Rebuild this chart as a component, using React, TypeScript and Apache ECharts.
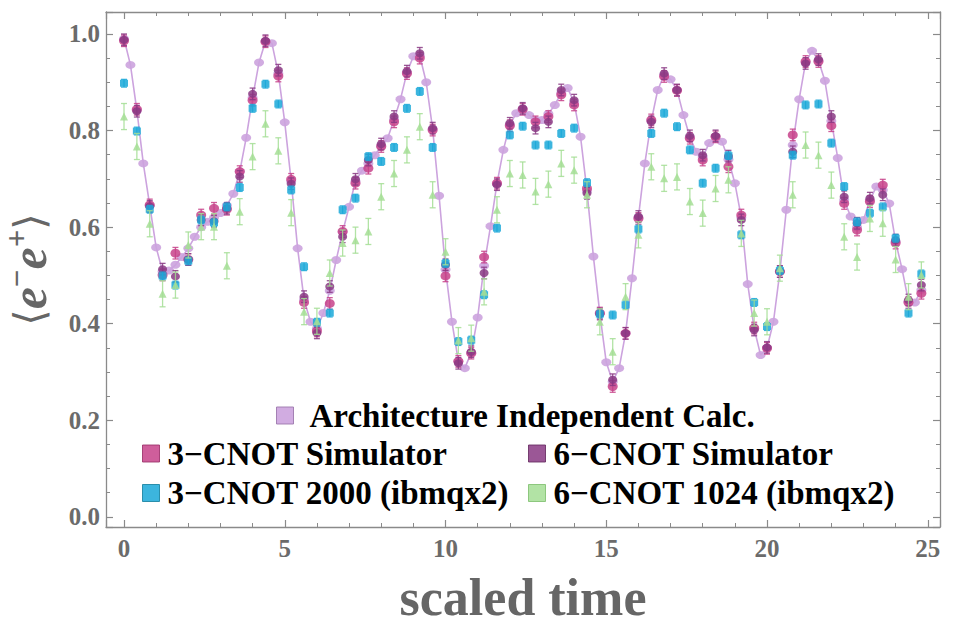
import React, { useEffect, useRef } from "react";
import * as echarts from "echarts";

// scaled time of the simulator / hardware points
const TIME = [
  0, 0.4, 0.8, 1.2, 1.6, 2, 2.4, 2.8, 3.2, 3.6,
  4, 4.4, 4.8, 5.2, 5.6, 6, 6.4, 6.8, 7.2, 7.6,
  8, 8.4, 8.8, 9.2, 9.6, 10, 10.4, 10.8, 11.2, 11.6,
  12, 12.4, 12.8, 13.2, 13.6, 14, 14.4, 14.8, 15.2, 15.6,
  16, 16.4, 16.8, 17.2, 17.6, 18, 18.4, 18.8, 19.2, 19.6,
  20, 20.4, 20.8, 21.2, 21.6, 22, 22.4, 22.8, 23.2, 23.6,
  24, 24.4, 24.8,
];

// scaled time of the architecture independent calculation
const TIME_FINE = [
  0, 0.2, 0.4, 0.6, 0.8, 1, 1.2, 1.4, 1.6, 1.8,
  2, 2.2, 2.4, 2.6, 2.8, 3, 3.2, 3.4, 3.6, 3.8,
  4, 4.2, 4.4, 4.6, 4.8, 5, 5.2, 5.4, 5.6, 5.8,
  6, 6.2, 6.4, 6.6, 6.8, 7, 7.2, 7.4, 7.6, 7.8,
  8, 8.2, 8.4, 8.6, 8.8, 9, 9.2, 9.4, 9.6, 9.8,
  10, 10.2, 10.4, 10.6, 10.8, 11, 11.2, 11.4, 11.6, 11.8,
  12, 12.2, 12.4, 12.6, 12.8, 13, 13.2, 13.4, 13.6, 13.8,
  14, 14.2, 14.4, 14.6, 14.8, 15, 15.2, 15.4, 15.6, 15.8,
  16, 16.2, 16.4, 16.6, 16.8, 17, 17.2, 17.4, 17.6, 17.8,
  18, 18.2, 18.4, 18.6, 18.8, 19, 19.2, 19.4, 19.6, 19.8,
  20, 20.2, 20.4, 20.6, 20.8, 21, 21.2, 21.4, 21.6, 21.8,
  22, 22.2, 22.4, 22.6, 22.8, 23, 23.2, 23.4, 23.6, 23.8,
  24, 24.2, 24.4, 24.6, 24.8,
];

const ARCH_CALC = [
  0.990, 0.936, 0.842, 0.732, 0.645, 0.558, 0.508, 0.510, 0.522, 0.538,
  0.556, 0.580, 0.600, 0.611, 0.620, 0.629, 0.645, 0.669, 0.715, 0.785,
  0.868, 0.941, 0.985, 0.981, 0.918, 0.817, 0.695, 0.556, 0.450, 0.404,
  0.390, 0.422, 0.468, 0.532, 0.590, 0.642, 0.695, 0.717, 0.732, 0.749,
  0.768, 0.784, 0.823, 0.865, 0.920, 0.954, 0.955, 0.900, 0.803, 0.665,
  0.512, 0.404, 0.322, 0.308, 0.340, 0.413, 0.520, 0.602, 0.690, 0.760,
  0.812, 0.836, 0.845, 0.832, 0.822, 0.822, 0.835, 0.853, 0.878, 0.888,
  0.858, 0.787, 0.675, 0.539, 0.421, 0.320, 0.280, 0.308, 0.380, 0.494,
  0.620, 0.732, 0.820, 0.884, 0.915, 0.906, 0.884, 0.832, 0.786, 0.756,
  0.745, 0.774, 0.788, 0.777, 0.740, 0.691, 0.620, 0.482, 0.390, 0.335,
  0.350, 0.404, 0.508, 0.636, 0.770, 0.865, 0.941, 0.965, 0.945, 0.903,
  0.820, 0.743, 0.656, 0.622, 0.600, 0.615, 0.656, 0.684, 0.677, 0.649,
  0.570, 0.513, 0.446, 0.444, 0.470,
];

const SIM_3CNOT = [
  0.986, 0.844, 0.646, 0.501, 0.546, 0.533, 0.625, 0.639, 0.637, 0.715,
  0.863, 0.984, 0.913, 0.699, 0.444, 0.385, 0.442, 0.591, 0.691, 0.722,
  0.767, 0.818, 0.918, 0.950, 0.801, 0.499, 0.322, 0.339, 0.538, 0.691,
  0.810, 0.844, 0.818, 0.829, 0.874, 0.853, 0.680, 0.422, 0.270, 0.380,
  0.618, 0.822, 0.912, 0.883, 0.784, 0.739, 0.787, 0.725, 0.625, 0.391,
  0.349, 0.508, 0.791, 0.943, 0.943, 0.810, 0.649, 0.594, 0.653, 0.687,
  0.567, 0.444, 0.463,
];

const SIM_6CNOT = [
  0.988, 0.840, 0.643, 0.513, 0.498, 0.533, 0.615, 0.612, 0.639, 0.705,
  0.876, 0.986, 0.925, 0.690, 0.456, 0.381, 0.477, 0.580, 0.699, 0.739,
  0.772, 0.829, 0.923, 0.960, 0.805, 0.522, 0.318, 0.342, 0.505, 0.688,
  0.815, 0.846, 0.805, 0.818, 0.884, 0.863, 0.670, 0.420, 0.284, 0.380,
  0.622, 0.818, 0.918, 0.884, 0.789, 0.749, 0.789, 0.747, 0.615, 0.387,
  0.351, 0.508, 0.756, 0.939, 0.947, 0.829, 0.663, 0.608, 0.660, 0.667,
  0.573, 0.449, 0.480,
];

const HW_3CNOT_2000 = [
  0.898, 0.799, 0.637, 0.499, 0.480, 0.530, 0.615, 0.609, 0.642, 0.682,
  0.846, 0.896, 0.855, 0.677, 0.518, 0.403, 0.422, 0.636, 0.660, 0.746,
  0.736, 0.765, 0.846, 0.881, 0.765, 0.525, 0.363, 0.366, 0.460, 0.598,
  0.791, 0.809, 0.770, 0.770, 0.794, 0.805, 0.692, 0.420, 0.418, 0.439,
  0.596, 0.794, 0.836, 0.808, 0.760, 0.691, 0.722, 0.748, 0.584, 0.444,
  0.394, 0.510, 0.749, 0.853, 0.855, 0.774, 0.684, 0.611, 0.629, 0.642,
  0.577, 0.422, 0.503,
];

const HW_6CNOT_1024 = [
  0.829, 0.767, 0.607, 0.462, 0.480, 0.563, 0.601, 0.601, 0.520, 0.632,
  0.746, 0.814, 0.758, 0.630, 0.425, 0.405, 0.505, 0.567, 0.573, 0.591,
  0.663, 0.711, 0.760, 0.808, 0.667, 0.549, 0.365, 0.370, 0.466, 0.636,
  0.711, 0.708, 0.674, 0.689, 0.732, 0.718, 0.667, 0.404, 0.342, 0.456,
  0.584, 0.725, 0.701, 0.704, 0.653, 0.629, 0.680, 0.698, 0.587, 0.422,
  0.404, 0.515, 0.667, 0.770, 0.749, 0.687, 0.580, 0.538, 0.618, 0.608,
  0.533, 0.456, 0.501,
];

// half-widths of the error bars
const ERR_SIM_3 = 0.012;
const ERR_SIM_6 = 0.012;
const ERR_HW_3 = 0.008;
const ERR_HW_6 = 0.027;

const NAME_ARCH = "Architecture Independent Calc.";
const NAME_SIM3 = "3\u2212CNOT Simulator";
const NAME_SIM6 = "6\u2212CNOT Simulator";
const NAME_HW3 = "3\u2212CNOT 2000 (ibmqx2)";
const NAME_HW6 = "6\u2212CNOT 1024 (ibmqx2)";

const C_ARCH = "#CCA3DE";
const C_SIM3 = "#C7428A";
const C_SIM6 = "#893A84";
const C_HW3 = "#1AA8D8";
const C_HW6 = "#A5DE95";

const FRAME = "#8a8a8a";
const LABEL_GRAY = "#6b6b6b";
const SERIF = "'Liberation Serif', 'Times New Roman', serif";

function errorBars(id: string, values: number[], err: number, color: string, z: number) {
  return {
    type: "custom",
    id,
    silent: true,
    z,
    data: TIME.map((t, i) => [t, values[i], err]),
    encode: { x: 0, y: 1 },
    renderItem: (_params: any, api: any) => {
      const x = api.value(0);
      const y = api.value(1);
      const e = api.value(2);
      const hi = api.coord([x, y + e]);
      const lo = api.coord([x, y - e]);
      const w = 3;
      const style = { stroke: color, lineWidth: 1.3, opacity: 0.85 };
      return {
        type: "group",
        children: [
          { type: "line", shape: { x1: hi[0], y1: hi[1], x2: lo[0], y2: lo[1] }, style },
          { type: "line", shape: { x1: hi[0] - w, y1: hi[1], x2: hi[0] + w, y2: hi[1] }, style },
          { type: "line", shape: { x1: lo[0] - w, y1: lo[1], x2: lo[0] + w, y2: lo[1] }, style },
        ],
      };
    },
  };
}

function points(name: string, values: number[], color: string, symbol: string, size: any, z: number) {
  return {
    type: "scatter",
    name,
    z,
    symbol,
    symbolSize: size,
    data: TIME.map((t, i) => [t, values[i]]),
    itemStyle: { color, opacity: 0.85 },
  };
}

const xTicks = (v: number) => (Math.abs(v / 5 - Math.round(v / 5)) < 1e-6 ? String(Math.round(v)) : "");
const yTicks = (v: number) => (Math.abs(v * 5 - Math.round(v * 5)) < 1e-6 ? v.toFixed(1) : "");

export default function App() {
  const ref = useRef<HTMLDivElement>(null);

  useEffect(() => {
    if (!ref.current) return;
    const chart = echarts.init(ref.current, undefined, { renderer: "svg" });

    const X_MIN = -0.56;
    const X_MAX = 25.38;
    const Y_MIN = -0.021;
    const Y_MAX = 1.0455;

    const axisLine = { show: true, onZero: false, lineStyle: { color: FRAME, width: 1.3 } };
    const tick = { show: true, inside: true, length: 7, lineStyle: { color: FRAME, width: 1.2 } };
    const minorX = { show: true, splitNumber: 5, length: 4, lineStyle: { color: FRAME, width: 1 } };
    const minorY = { show: true, splitNumber: 4, length: 4, lineStyle: { color: FRAME, width: 1 } };
    const labelFont = { fontFamily: SERIF, fontWeight: "bold", fontSize: 25, color: LABEL_GRAY };

    const legendText = {
      fontFamily: SERIF,
      fontWeight: "bold",
      fontSize: 33,
      lineHeight: 32,
      color: "#000",
      padding: [0, 0, 0, 3],
    };
    const legendCommon = {
      icon: "rect",
      itemWidth: 17,
      itemHeight: 17,
      padding: 0,
      selectedMode: false,
      textStyle: legendText,
    };

    chart.setOption({
      animation: false,
      backgroundColor: "#fff",
      grid: {
        left: 106,
        right: 14,
        top: 12,
        bottom: 107,
        containLabel: false,
        outerBoundsMode: "none",
      },
      xAxis: [
        {
          type: "value",
          min: X_MIN,
          max: X_MAX,
          position: "bottom",
          axisLine,
          axisTick: tick,
          minorTick: minorX,
          splitLine: { show: false },
          axisLabel: { ...labelFont, margin: 9, formatter: xTicks, showMinLabel: false, showMaxLabel: false },
          name: "scaled time",
          nameLocation: "middle",
          nameGap: 44,
          nameTextStyle: { fontFamily: SERIF, fontWeight: "bold", fontSize: 52, color: "#666" },
        },
        {
          type: "value",
          min: X_MIN,
          max: X_MAX,
          position: "top",
          axisLine,
          axisTick: tick,
          minorTick: minorX,
          splitLine: { show: false },
          axisLabel: { show: false },
        },
      ],
      yAxis: [
        {
          type: "value",
          min: Y_MIN,
          max: Y_MAX,
          position: "left",
          axisLine,
          axisTick: tick,
          minorTick: minorY,
          splitLine: { show: false },
          axisLabel: { ...labelFont, margin: 6, formatter: yTicks, showMinLabel: false, showMaxLabel: false },
          name: "{b|\u27E8}{e|e}{s|\u2212}{e|e}{s|+}{b|\u27E9}",
          nameLocation: "middle",
          nameRotate: 90,
          nameGap: 49,
          nameTextStyle: {
            color: "#666",
            rich: {
              b: { fontFamily: "'DejaVu Serif', serif", fontSize: 42, color: "#666", lineHeight: 50 },
              e: {
                fontFamily: SERIF,
                fontStyle: "italic",
                fontWeight: "bold",
                fontSize: 50,
                color: "#666",
                lineHeight: 50,
              },
              s: {
                fontFamily: SERIF,
                fontWeight: "bold",
                fontSize: 31,
                lineHeight: 30,
                color: "#666",
                padding: [0, 0, 26, 0],
              },
            },
          },
        },
        {
          type: "value",
          min: Y_MIN,
          max: Y_MAX,
          position: "right",
          axisLine,
          axisTick: tick,
          minorTick: minorY,
          splitLine: { show: false },
          axisLabel: { show: false },
        },
      ],
      legend: [
        {
          ...legendCommon,
          left: 276,
          top: 399,
          textStyle: { ...legendText, padding: [0, 0, 0, 11] },
          data: [{ name: NAME_ARCH, itemStyle: { borderColor: "#9c78ad", borderWidth: 1 } }],
        },
        {
          ...legendCommon,
          orient: "vertical",
          left: 142,
          top: 437,
          itemGap: 6.5,
          data: [
            { name: NAME_SIM3, itemStyle: { borderColor: "#9a2f68", borderWidth: 1 } },
            { name: NAME_HW3, itemStyle: { borderColor: "#15809f", borderWidth: 1 } },
          ],
        },
        {
          ...legendCommon,
          orient: "vertical",
          left: 528,
          top: 437,
          itemGap: 6.5,
          data: [
            { name: NAME_SIM6, itemStyle: { borderColor: "#652a60", borderWidth: 1 } },
            { name: NAME_HW6, itemStyle: { borderColor: "#7fbf70", borderWidth: 1 } },
          ],
        },
      ],
      series: [
        {
          type: "line",
          name: NAME_ARCH,
          z: 2,
          data: TIME_FINE.map((t, i) => [t, ARCH_CALC[i]]),
          symbol: "circle",
          symbolSize: [10, 8],
          showAllSymbol: true,
          lineStyle: { color: C_ARCH, width: 1.6 },
          itemStyle: { color: C_ARCH, opacity: 0.9 },
        },
        errorBars("err-sim3", SIM_3CNOT, ERR_SIM_3, C_SIM3, 3),
        points(NAME_SIM3, SIM_3CNOT, C_SIM3, "circle", [10, 9], 3),
        errorBars("err-sim6", SIM_6CNOT, ERR_SIM_6, C_SIM6, 4),
        points(NAME_SIM6, SIM_6CNOT, C_SIM6, "circle", [9, 8], 4),
        errorBars("err-hw3", HW_3CNOT_2000, ERR_HW_3, C_HW3, 5),
        points(NAME_HW3, HW_3CNOT_2000, C_HW3, "rect", [8, 7], 5),
        errorBars("err-hw6", HW_6CNOT_1024, ERR_HW_6, C_HW6, 6),
        points(NAME_HW6, HW_6CNOT_1024, C_HW6, "triangle", [8, 8], 6),
      ],
    });

    return () => chart.dispose();
  }, []);

  return (
    <div
      ref={ref}
      style={{ position: "fixed", left: 0, top: 0, width: 954, height: 634, background: "#fff" }}
    />
  );
}
